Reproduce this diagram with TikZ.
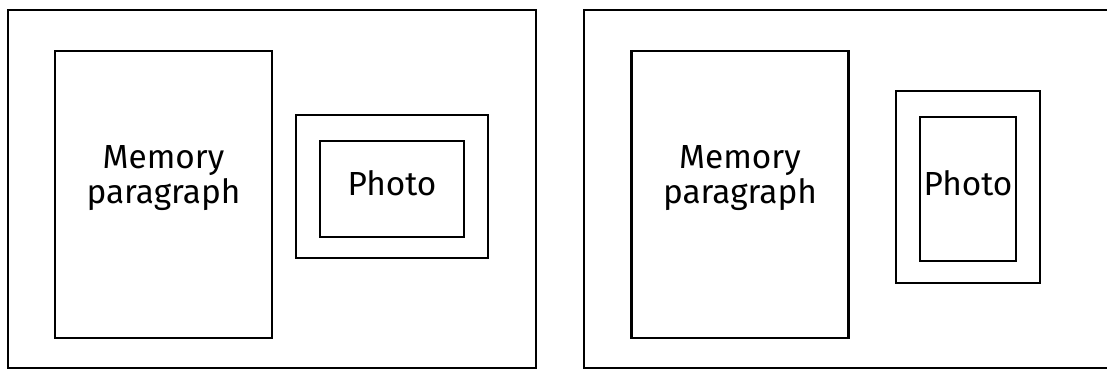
\documentclass[tikz,border=0pt]{standalone}
\usepackage{fontspec}
\setmainfont{Fira Sans}
\usetikzlibrary{positioning}

\begin{document}
\begin{tikzpicture}[x=0.02cm,y=-0.02cm,
  frame/.style={draw,line width=1.6pt,rectangle,inner sep=0pt},
  lbl/.style={font=\fontsize{19}{20}\selectfont,align=center,inner sep=0pt}
]
\useasboundingbox (0,0) rectangle (1107,370);
\clip (0,0) rectangle (1107,370);
% left page: landscape photo
\node[frame,minimum width=10.56cm,minimum height=7.16cm] (pageA) at (272,189) {};
\node[frame,minimum width=4.34cm,minimum height=5.74cm] (memA) at (163.5,194.5) {};
\node[frame,minimum width=3.84cm,minimum height=2.86cm] (matA) at (392,186.5) {};
\node[frame,minimum width=2.88cm,minimum height=1.92cm] (photoA) at (392,189) {};
\node[lbl] (memtxtA) at (163.5,178) {Memory\\paragraph};
\node[lbl] (phtxtA) at (392,183) {Photo};
% right page: portrait photo
\node[frame,minimum width=10.56cm,minimum height=7.16cm] (pageB) at (848,189) {};
\node[frame,minimum width=4.34cm,minimum height=5.74cm] (memB) at (740,194.5) {};
\node[frame,minimum width=2.88cm,minimum height=3.84cm] (matB) at (968,187) {};
\node[frame,minimum width=1.92cm,minimum height=2.88cm] (photoB) at (968,189) {};
\node[lbl] (memtxtB) at (740,178) {Memory\\paragraph};
\node[lbl] (phtxtB) at (968,183) {Photo};
\end{tikzpicture}
\end{document}
